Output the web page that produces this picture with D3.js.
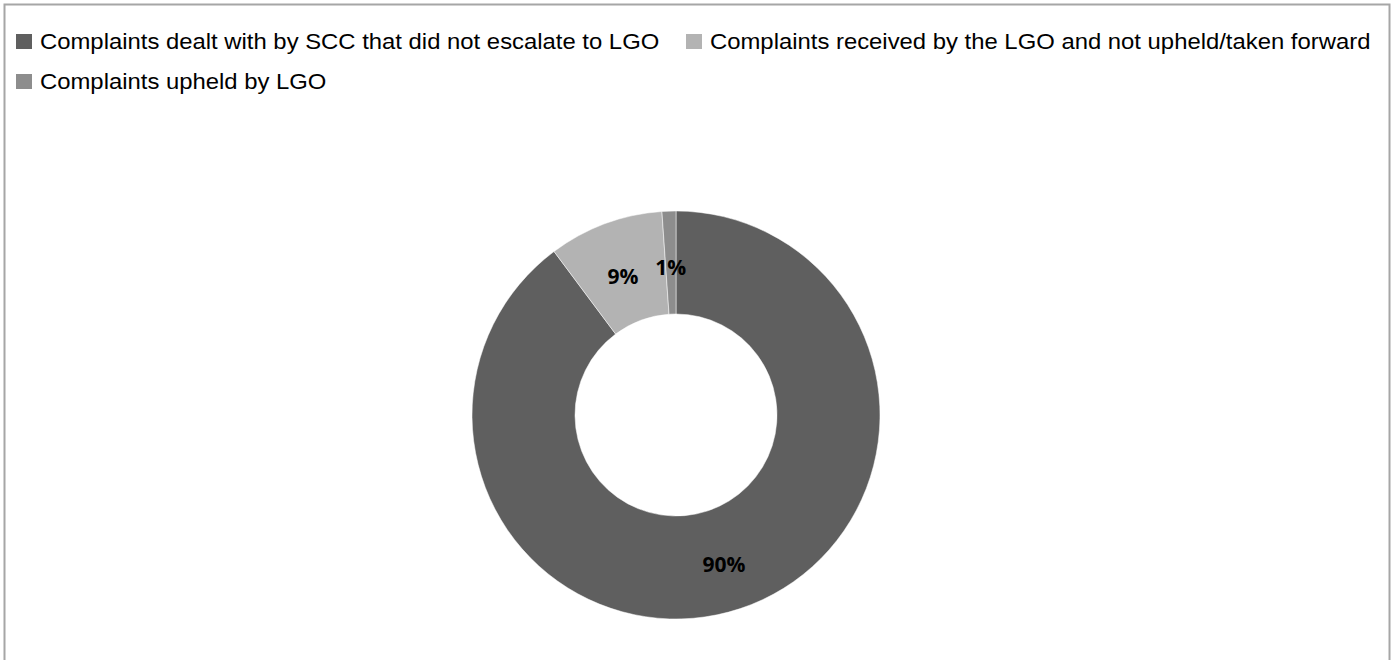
<!DOCTYPE html>
<html>
<head>
  <style>
    html, body { margin: 0; padding: 0; background: #fff; }
    svg { display: block; }
  </style>
</head>
<body>
  <svg id="svg" width="1394" height="660"></svg>
  <script src="https://d3js.org/d3.v7.min.js"></script>
  <script>
    // data
    const categories = [
      "Complaints dealt with by SCC that did not escalate to LGO",
      "Complaints received by the LGO and not upheld/taken forward",
      "Complaints upheld by LGO"
    ]
    const values = [89.8, 9.1, 1.1]
    const labels = ["90%", "9%", "1%"]
    const colors = ["#5f5f5f", "#b3b3b3", "#8d8d8d"]

    const width = 1394
    const height = 660
    const cx = 676
    const cy = 415
    const outerR = 204
    const innerR = 101

    const svg = d3.select("#svg")

    // outer frame (bottom edge falls outside the picture)
    svg.append("rect")
      .attr("x", 4.5).attr("y", 4.5)
      .attr("width", 1385).attr("height", 700)
      .attr("fill", "none")
      .attr("stroke", "#a6a6a6")
      .attr("stroke-width", 2)

    // legend
    const legendPos = [[16, 34], [686, 34], [16, 74]]
    const legend = svg.append("g")
    categories.forEach((c, i) => {
      const [lx, ly] = legendPos[i]
      legend.append("rect")
        .attr("x", lx).attr("y", ly)
        .attr("width", 16).attr("height", 15)
        .attr("fill", colors[i])
      const t = legend.append("text")
        .attr("x", lx + 24).attr("y", ly + 14.5)
        .attr("font-family", "Liberation Sans, Arial, sans-serif")
        .attr("font-size", 21.7)
        .attr("fill", "#000")
        .text(c)
      // reference text is set slightly wider than plain Arial
      const len = t.node().getComputedTextLength()
      t.attr("textLength", len * 1.1).attr("lengthAdjust", "spacingAndGlyphs")
    })

    // donut
    const pie = d3.pie().sort(null).value(d => d)
    const arcs = pie(values)
    const arc = d3.arc().innerRadius(innerR).outerRadius(outerR)

    const g = svg.append("g").attr("transform", `translate(${cx},${cy})`)
    g.selectAll("path")
      .data(arcs)
      .join("path")
      .attr("d", arc)
      .attr("fill", (d, i) => colors[i])
      .attr("stroke", "#fff")
      .attr("stroke-width", 0.5)

    g.selectAll("text")
      .data(arcs)
      .join("text")
      .attr("transform", d => {
        const [x, y] = arc.centroid(d)
        return `translate(${x},${y + 5})`
      })
      .attr("text-anchor", "middle")
      .attr("dy", "0.35em")
      .attr("font-family", "Open Sans, Noto Sans, sans-serif")
      .attr("font-weight", "bold")
      .attr("font-size", 21)
      .attr("fill", "#000")
      .text((d, i) => labels[i])
  </script>
</body>
</html>
